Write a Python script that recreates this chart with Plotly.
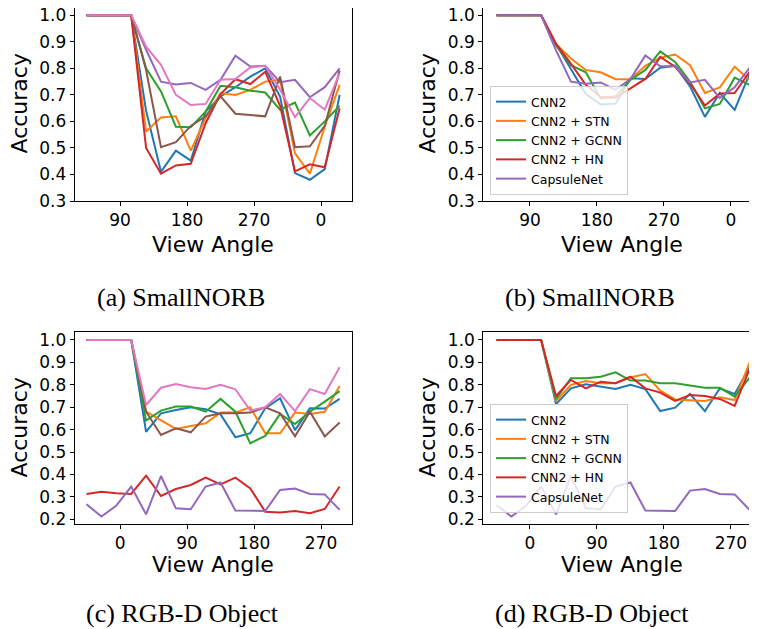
import plotly.graph_objects as go

# ---------------- data ----------------
angles_norb = [45, 65, 85, 105, 125, 145, 165, 185, 205, 225, 245, 265, 285, 305, 325, 345, 365, 385]
angles_rgbd = [-45, -25, -5, 15, 35, 55, 75, 95, 115, 135, 155, 175, 195, 215, 235, 255, 275, 295]

norb_tick_vals = [90, 180, 270, 360]
norb_tick_text = ["90", "180", "270", "0"]
rgbd_tick_vals = [0, 90, 180, 270]
rgbd_tick_text = ["0", "90", "180", "270"]

# (a) SmallNORB, seven runs
a_blue   = [1.0, 1.0, 1.0, 1.0, 0.64, 0.41, 0.49, 0.452, 0.637, 0.694, 0.729, 0.769, 0.80, 0.694, 0.405, 0.38, 0.42, 0.70]
a_orange = [1.0, 1.0, 1.0, 1.0, 0.562, 0.615, 0.619, 0.49, 0.612, 0.706, 0.70, 0.719, 0.75, 0.757, 0.48, 0.403, 0.58, 0.738]
a_green  = [1.0, 1.0, 1.0, 1.0, 0.80, 0.713, 0.58, 0.578, 0.637, 0.734, 0.729, 0.716, 0.709, 0.644, 0.671, 0.547, 0.60, 0.659]
a_red    = [1.0, 1.0, 1.0, 1.0, 0.50, 0.403, 0.434, 0.44, 0.593, 0.703, 0.759, 0.741, 0.787, 0.659, 0.412, 0.438, 0.427, 0.65]
a_purple = [1.0, 1.0, 1.0, 1.0, 0.87, 0.75, 0.739, 0.745, 0.719, 0.757, 0.848, 0.807, 0.81, 0.748, 0.757, 0.691, 0.729, 0.80]
a_brown  = [1.0, 1.0, 1.0, 1.0, 0.794, 0.503, 0.522, 0.583, 0.619, 0.694, 0.629, 0.624, 0.619, 0.769, 0.503, 0.506, 0.583, 0.792]
a_pink   = [1.0, 1.0, 1.0, 1.0, 0.882, 0.813, 0.70, 0.662, 0.666, 0.757, 0.76, 0.803, 0.81, 0.719, 0.616, 0.688, 0.644, 0.782]

# (b) SmallNORB, per model
b_cnn2    = [1.0, 1.0, 1.0, 1.0, 0.892, 0.80, 0.703, 0.664, 0.667, 0.763, 0.76, 0.802, 0.81, 0.732, 0.617, 0.707, 0.643, 0.78]
b_stn     = [1.0, 1.0, 1.0, 1.0, 0.892, 0.837, 0.794, 0.785, 0.759, 0.759, 0.81, 0.84, 0.852, 0.812, 0.707, 0.728, 0.806, 0.756]
b_gcnn    = [1.0, 1.0, 1.0, 1.0, 0.886, 0.812, 0.785, 0.686, 0.695, 0.756, 0.794, 0.864, 0.824, 0.75, 0.649, 0.666, 0.765, 0.738]
b_hn      = [1.0, 1.0, 1.0, 1.0, 0.892, 0.818, 0.738, 0.692, 0.689, 0.726, 0.76, 0.843, 0.806, 0.744, 0.66, 0.705, 0.707, 0.787]
b_capsule = [1.0, 1.0, 1.0, 1.0, 0.868, 0.75, 0.742, 0.747, 0.719, 0.76, 0.849, 0.808, 0.808, 0.747, 0.757, 0.689, 0.729, 0.802]

# (c) RGB-D Object, seven runs
c_blue   = [1.0, 1.0, 1.0, 1.0, 0.59, 0.673, 0.688, 0.70, 0.691, 0.668, 0.566, 0.584, 0.695, 0.74, 0.598, 0.695, 0.694, 0.737]
c_orange = [1.0, 1.0, 1.0, 1.0, 0.68, 0.643, 0.603, 0.616, 0.628, 0.676, 0.676, 0.70, 0.584, 0.584, 0.676, 0.67, 0.68, 0.795]
c_green  = [1.0, 1.0, 1.0, 1.0, 0.64, 0.685, 0.703, 0.703, 0.68, 0.737, 0.68, 0.539, 0.572, 0.67, 0.625, 0.68, 0.725, 0.772]
c_red    = [0.313, 0.323, 0.316, 0.313, 0.395, 0.304, 0.335, 0.353, 0.386, 0.356, 0.386, 0.338, 0.234, 0.23, 0.237, 0.227, 0.246, 0.346]
c_purple = [0.267, 0.212, 0.261, 0.346, 0.222, 0.393, 0.249, 0.245, 0.346, 0.364, 0.239, 0.237, 0.237, 0.331, 0.337, 0.313, 0.311, 0.242]
c_brown  = [1.0, 1.0, 1.0, 1.0, 0.68, 0.576, 0.606, 0.588, 0.658, 0.673, 0.673, 0.676, 0.70, 0.673, 0.57, 0.68, 0.57, 0.632]
c_pink   = [1.0, 1.0, 1.0, 1.0, 0.71, 0.787, 0.804, 0.789, 0.781, 0.80, 0.78, 0.685, 0.70, 0.759, 0.683, 0.781, 0.759, 0.878]

# (d) RGB-D Object, per model
d_cnn2    = [1.0, 1.0, 1.0, 1.0, 0.714, 0.784, 0.802, 0.792, 0.781, 0.80, 0.781, 0.683, 0.698, 0.759, 0.683, 0.784, 0.759, 0.878]
d_stn     = [1.0, 1.0, 1.0, 1.0, 0.728, 0.80, 0.817, 0.807, 0.807, 0.833, 0.848, 0.774, 0.735, 0.732, 0.728, 0.744, 0.732, 0.899]
d_gcnn    = [1.0, 1.0, 1.0, 1.0, 0.737, 0.829, 0.829, 0.836, 0.856, 0.819, 0.819, 0.807, 0.807, 0.796, 0.787, 0.787, 0.747, 0.832]
d_hn      = [1.0, 1.0, 1.0, 1.0, 0.75, 0.822, 0.784, 0.814, 0.807, 0.836, 0.784, 0.765, 0.728, 0.755, 0.75, 0.737, 0.706, 0.869]
d_capsule = [0.264, 0.212, 0.261, 0.346, 0.222, 0.393, 0.249, 0.245, 0.346, 0.364, 0.239, 0.237, 0.237, 0.328, 0.335, 0.313, 0.311, 0.242]

model_names = ["CNN2", "CNN2 + STN", "CNN2 + GCNN", "CNN2 + HN", "CapsuleNet"]
captions = ["(a) SmallNORB", "(b) SmallNORB", "(c) RGB-D Object", "(d) RGB-D Object"]

# ---------------- style ----------------
# The page body has an 8px default margin, so the figure is drawn 8px in
# from the window's top-left corner; size it to fill the rest of the window.
OFF = 8
WIN_W, WIN_H = 757, 629
W, H = WIN_W - OFF, WIN_H - OFF
TAB = ["#1f77b4", "#ff7f0e", "#2ca02c", "#d62728", "#9467bd", "#8c564b", "#e377c2"]
SANS = "DejaVu Sans"
SERIF = "Liberation Serif"

def px_x(p):
    return (p - OFF) / W

def px_y(p):
    return 1 - (p - OFF) / H

fig = go.Figure()

def add_lines(series, angles, axis_idx, names=None, legend=None):
    xa = "x" if axis_idx == 1 else f"x{axis_idx}"
    ya = "y" if axis_idx == 1 else f"y{axis_idx}"
    for i, s in enumerate(series):
        fig.add_trace(go.Scatter(
            x=angles, y=s, mode="lines", xaxis=xa, yaxis=ya,
            line=dict(color=TAB[i], width=2),
            name=names[i] if names else "",
            showlegend=bool(names), legend=legend if legend else "legend",
            hoverinfo="skip"))

add_lines([a_blue, a_orange, a_green, a_red, a_purple, a_brown, a_pink], angles_norb, 1)
add_lines([b_cnn2, b_stn, b_gcnn, b_hn, b_capsule], angles_norb, 2, model_names, "legend")
add_lines([c_blue, c_orange, c_green, c_red, c_purple, c_brown, c_pink], angles_rgbd, 3)
add_lines([d_cnn2, d_stn, d_gcnn, d_hn, d_capsule], angles_rgbd, 4, model_names, "legend2")

tickfont = dict(family=SANS, size=17, color="black")

def xaxis(dom, rng, vals, text, anchor):
    return dict(domain=dom, range=rng, tickvals=vals, ticktext=text, anchor=anchor,
                showline=True, linecolor="black", linewidth=1, mirror=True,
                ticks="outside", ticklen=4, tickcolor="black", tickwidth=1,
                showgrid=False, zeroline=False, tickfont=tickfont, fixedrange=True,
                automargin=False, ticklabeloverflow="allow")

def yaxis(dom, rng, vals, anchor, mirror):
    return dict(domain=dom, range=rng, tickvals=vals, tickformat=".1f", anchor=anchor,
                showline=True, linecolor="black", linewidth=1, mirror=mirror,
                ticks="outside", ticklen=4, tickcolor="black", tickwidth=1,
                showgrid=False, zeroline=False, tickfont=tickfont, fixedrange=True,
                automargin=False, ticklabeloverflow="allow")

# top row: spine at window y=8 (figure edge), bottom spine at y=201
ytop_dom = [px_y(201), 1.0]
ybot_dom = [px_y(524), px_y(331.7)]
xl_dom = [px_x(74.7), px_x(352)]
xr_dom = [px_x(483.3), 1.0]

yt_norb = [0.3, 0.4, 0.5, 0.6, 0.7, 0.8, 0.9, 1.0]
yt_rgbd = [0.2, 0.3, 0.4, 0.5, 0.6, 0.7, 0.8, 0.9, 1.0]

legend_style = dict(xanchor="left", yanchor="bottom",
                    bgcolor="rgba(255,255,255,0.8)", bordercolor="#cccccc", borderwidth=1,
                    font=dict(family=SANS, size=12.5, color="black"), tracegroupgap=0,
                    itemwidth=30)

fig.update_layout(
    width=W, height=H, margin=dict(l=0, r=0, t=0, b=0, autoexpand=False),
    paper_bgcolor="white", plot_bgcolor="white",
    xaxis=xaxis(xl_dom, [29.1, 401.6], norb_tick_vals, norb_tick_text, "y"),
    yaxis=yaxis(ytop_dom, [0.3, 1.0275], yt_norb, "x", True),
    xaxis2=xaxis(xr_dom, [27.3, 395.0], norb_tick_vals, norb_tick_text, "y2"),
    yaxis2=yaxis(ytop_dom, [0.3, 1.0275], yt_norb, "x2", False),
    xaxis3=xaxis(xl_dom, [-60.9, 311.6], rgbd_tick_vals, rgbd_tick_text, "y3"),
    yaxis3=yaxis(ybot_dom, [0.179, 1.037], yt_rgbd, "x3", True),
    xaxis4=xaxis(xr_dom, [-62.7, 305.0], rgbd_tick_vals, rgbd_tick_text, "y4"),
    yaxis4=yaxis(ybot_dom, [0.179, 1.037], yt_rgbd, "x4", False),
    legend=dict(x=px_x(490), y=px_y(195), **legend_style),
    legend2=dict(x=px_x(490), y=px_y(513), **legend_style),
    showlegend=True,
)

ann = []
for xc, yc in [(18.5, 104), (426.5, 104), (18.5, 428), (426.5, 428)]:
    ann.append(dict(text="Accuracy", x=px_x(xc), y=px_y(yc), xref="paper", yref="paper",
                    textangle=-90, showarrow=False, xanchor="center", yanchor="middle",
                    font=dict(family=SANS, size=22, color="black")))
for xc, yc in [(213.3, 244), (622, 244), (213.3, 564), (622, 564)]:
    ann.append(dict(text="View Angle", x=px_x(xc), y=px_y(yc), xref="paper", yref="paper",
                    showarrow=False, xanchor="center", yanchor="middle",
                    font=dict(family=SANS, size=22, color="black")))
for cap, (xc, yc) in zip(captions, [(181, 297), (590, 297), (182, 613), (592, 613)]):
    ann.append(dict(text=cap, x=px_x(xc), y=px_y(yc), xref="paper", yref="paper",
                    showarrow=False, xanchor="center", yanchor="middle",
                    font=dict(family=SERIF, size=26, color="black")))
fig.update_layout(annotations=ann)

fig.write_html("out.html")
